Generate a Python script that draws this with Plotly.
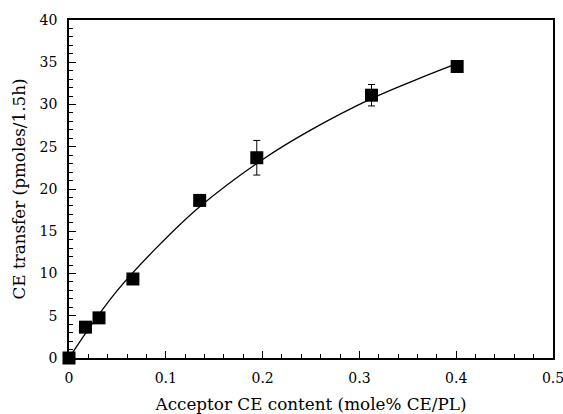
import plotly.graph_objects as go

# Measured data points
x_data = [0.0, 0.017, 0.031, 0.066, 0.135, 0.194, 0.3125, 0.401]
y_data = [0.0, 3.65, 4.75, 9.35, 18.65, 23.7, 31.1, 34.5]
y_err = [0, 0, 0, 0, 0, 2.05, 1.27, 0]

# Fitted curve, points
x_fit = [0.0, 0.02, 0.05, 0.09, 0.135, 0.2, 0.25, 0.3125, 0.36, 0.4]
y_fit = [0.0, 3.4, 8.0, 13.0, 17.9, 23.5, 27.0, 30.7, 33.0, 34.8]

x_ticks = [0, 0.1, 0.2, 0.3, 0.4, 0.5]
x_tick_labels = ["0", "0.1", "0.2", "0.3", "0.4", "0.5"]
y_ticks = [0, 5, 10, 15, 20, 25, 30, 35, 40]

font_family = "DejaVu Serif"

fig = go.Figure()
fig.add_trace(go.Scatter(
    x=x_fit, y=y_fit, mode="lines",
    line=dict(color="black", width=1.3, shape="spline"),
    hoverinfo="skip", showlegend=False,
))
fig.add_trace(go.Scatter(
    x=x_data, y=y_data, mode="markers",
    marker=dict(symbol="square", size=13, color="black"),
    error_y=dict(type="data", array=y_err, visible=True,
                 color="black", thickness=1, width=3.5),
    cliponaxis=False, showlegend=False,
))

axis_common = dict(
    showgrid=False, zeroline=False, showline=True, linecolor="black",
    linewidth=1.5, mirror=True, ticks="inside", tickcolor="black",
    ticklen=7, tickwidth=1, automargin=False,
    tickfont=dict(family=font_family, size=14, color="black"),
)

fig.update_xaxes(
    range=[0, 0.5], tickvals=x_ticks, ticktext=x_tick_labels,
    ticklabelstandoff=6, ticklabeloverflow="allow",
    minor=dict(ticks="inside", dtick=0.02, ticklen=4, tickcolor="black", tickwidth=1),
    title=dict(text="Acceptor CE content (mole% CE/PL)",
               font=dict(family=font_family, size=16.8, color="black"), standoff=14),
    **axis_common,
)
fig.update_yaxes(
    range=[0, 40], tickvals=y_ticks,
    ticklabelstandoff=7,
    minor=dict(ticks="inside", dtick=1, ticklen=4, tickcolor="black", tickwidth=1),
    title=dict(text="CE transfer (pmoles/1.5h)",
               font=dict(family=font_family, size=16.8, color="black"), standoff=10),
    **axis_common,
)

fig.update_layout(
    width=563, height=414,
    margin=dict(l=69, r=10, t=20, b=56),
    paper_bgcolor="white", plot_bgcolor="white",
    font=dict(family=font_family, color="black"),
)

# Remove the default page margin so the figure fills the window exactly
fig.write_html(
    "out.html",
    config={"displayModeBar": False},
    post_script="document.body.style.margin='0';document.body.style.overflow='hidden';",
)
